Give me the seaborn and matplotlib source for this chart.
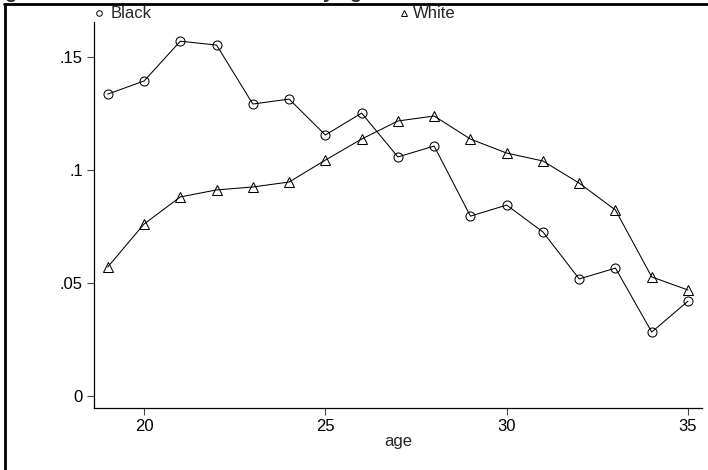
import matplotlib
matplotlib.use("Agg")
import matplotlib.pyplot as plt
import seaborn as sns
import pandas as pd
from matplotlib.lines import Line2D

ages = list(range(19, 36))
black = [0.1336, 0.1394, 0.1570, 0.1553, 0.1292, 0.1314, 0.1155, 0.1252, 0.1058,
         0.1106, 0.0796, 0.0845, 0.0726, 0.0518, 0.0566, 0.0283, 0.0420]
white = [0.0571, 0.0761, 0.0881, 0.0912, 0.0925, 0.0947, 0.1044, 0.1137, 0.1217,
         0.1239, 0.1137, 0.1075, 0.1040, 0.0942, 0.0823, 0.0527, 0.0469]
ytick_vals = [0, 0.05, 0.1, 0.15]
ytick_labels = ["0", ".05", ".1", ".15"]
xtick_vals = [20, 25, 30, 35]
series_names = ["Black", "White"]

df = pd.DataFrame({"age": ages, "Black": black, "White": white})

sns.set_style("white")
plt.rcParams["font.family"] = ["Liberation Sans", "DejaVu Sans"]

W, H = 708, 470
fig = plt.figure(figsize=(W / 100, H / 100), dpi=100)
ax = fig.add_axes([94 / W, 1 - 408 / H, (702 - 94) / W, (408 - 22) / H])

sns.lineplot(data=df, x="age", y="Black", ax=ax, color="black", lw=0.75,
             marker="o", ms=6.5, mfc="none", mec="black", mew=0.75)
sns.lineplot(data=df, x="age", y="White", ax=ax, color="black", lw=0.75,
             marker="^", ms=6.5, mfc="none", mec="black", mew=0.75)

ax.set_xlim(18.62, 35.386)
ax.set_ylim(-0.0053, 0.1655)
ax.set_xticks(xtick_vals)
ax.set_xticklabels([str(v) for v in xtick_vals])
ax.set_yticks(ytick_vals)
ax.set_yticklabels(ytick_labels)
ax.set_xlabel("age", fontsize=12, labelpad=0)
ax.set_ylabel("")
for s in ["top", "right"]:
    ax.spines[s].set_visible(False)
for s in ["left", "bottom"]:
    ax.spines[s].set_color("black")
    ax.spines[s].set_linewidth(0.9)
ax.tick_params(axis="both", direction="out", length=5, width=0.8, color="#444444",
               labelsize=12, labelcolor="black", pad=3, left=True, bottom=True)

# legend (drawn as key markers + labels in the top strip)
ly = 1 - 13 / H
fig.add_artist(Line2D([99 / W], [ly], transform=fig.transFigure, ls="none", marker="o",
                      ms=4, mfc="none", mec="black", mew=0.7))
fig.text(111 / W, ly, series_names[0], fontsize=12, va="center", ha="left")
fig.add_artist(Line2D([404 / W], [ly + 0.5 / H], transform=fig.transFigure, ls="none",
                      marker="^", ms=4, mfc="none", mec="black", mew=0.7))
fig.text(413 / W, ly, series_names[1], fontsize=12, va="center", ha="left")

# outer frame (cropped)
fig.add_artist(Line2D([4.5 / W, 4.5 / W], [0, 1 - 4 / H], transform=fig.transFigure,
                      color="black", lw=2.0))
fig.add_artist(Line2D([3.5 / W, 1], [1 - 4 / H, 1 - 4 / H], transform=fig.transFigure,
                      color="black", lw=2.0))
# cropped title (only descenders visible)
fig.text(-12 / W, 1 + 1.5 / H, "Figure 1. Arrest rates for homicide by age", fontsize=14,
         fontweight="bold", va="baseline", ha="left")

fig.savefig("out.png", dpi=100)
